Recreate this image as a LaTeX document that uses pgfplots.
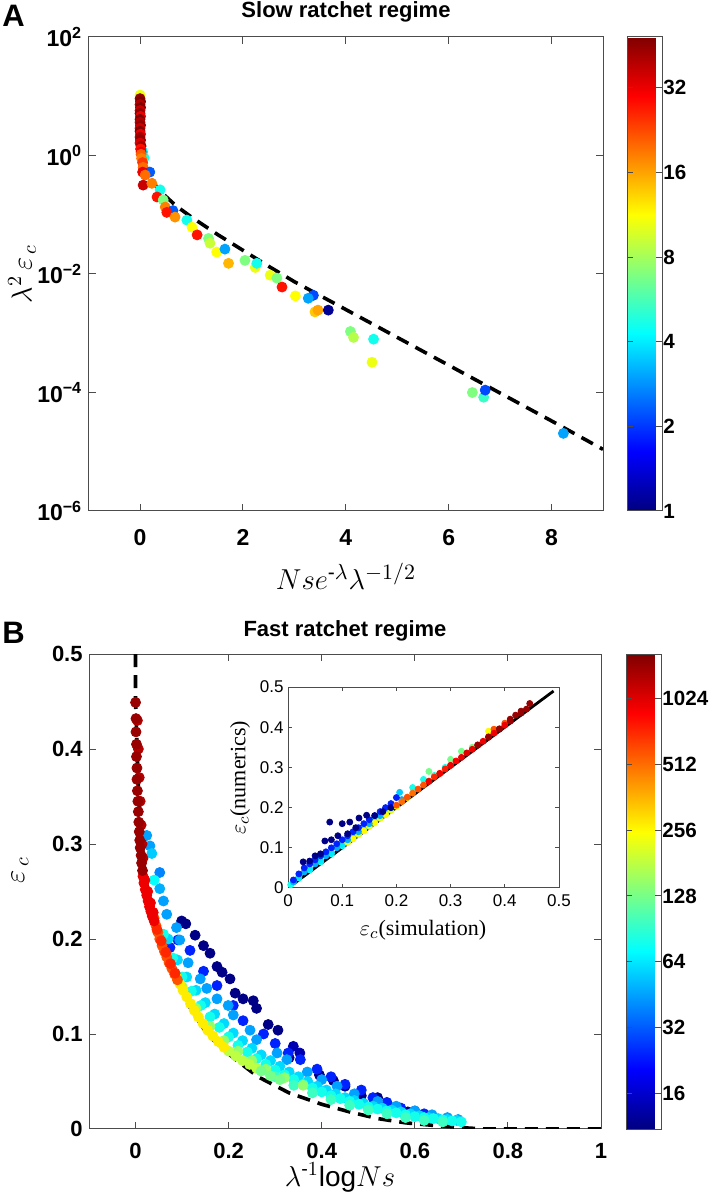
\documentclass[border=0pt]{standalone}
\usepackage{amsmath}
\usepackage{fontspec}
\setmainfont{Liberation Sans}
\newfontfamily\serif{Liberation Serif}
\usepackage{pgfplots}
\pgfplotsset{compat=1.18}
\usepackage{pgfplotstable}

% Panel A: x, log10(lambda^2 eps_c), log2(colour value)
\pgfplotstableread{
x ly c
0.00 1.02 3.4
0.00 0.96 5.5
0.01 0.91 5.6
0.00 0.86 5.3
0.01 0.81 5.6
0.00 0.76 5.2
0.00 0.71 5.5
0.01 0.66 5.0
0.00 0.61 5.6
0.00 0.56 5.3
0.01 0.51 5.5
0.00 0.46 5.2
0.00 0.41 5.6
0.01 0.36 5.0
0.00 0.31 5.4
0.01 0.26 5.5
0.00 0.21 5.1
0.02 0.16 5.4
0.05 0.06 2.0
0.08 -0.04 2.2
0.01 0.11 4.8
0.02 0.06 5.0
0.02 0.02 4.4
0.03 -0.05 4.2
0.05 -0.12 4.6
0.06 -0.20 4.3
0.19 -0.28 1.2
0.05 -0.28 5.0
0.10 -0.33 4.3
0.06 -0.50 5.2
0.23 -0.47 4.2
0.39 -0.58 2.2
0.33 -0.70 4.8
0.45 -0.75 2.8
0.49 -0.87 4.2
0.64 -0.93 1.2
0.52 -0.96 4.8
0.68 -1.04 4.1
0.91 -1.09 2.2
1.01 -1.21 3.5
1.11 -1.34 4.8
1.33 -1.40 2.8
1.36 -1.48 3.2
1.49 -1.63 3.5
1.65 -1.58 1.6
1.72 -1.82 3.9
2.04 -1.77 2.8
2.24 -1.89 3.4
2.27 -1.82 2.2
2.53 -2.02 3.4
2.66 -2.07 2.8
2.76 -2.22 4.8
3.02 -2.37 3.5
3.37 -2.36 1.1
3.27 -2.41 1.6
3.40 -2.64 3.8
3.46 -2.61 4.0
3.66 -2.61 0.1
4.09 -2.97 2.8
4.15 -3.07 3.1
4.54 -3.10 2.2
4.51 -3.49 3.4
6.46 -4.00 2.8
6.68 -4.08 2.4
6.71 -3.96 1.1
8.23 -4.69 1.6
}\dataA

\pgfplotstableread{
x ly
0.000 0.99
0.004 0.60
0.015 0.30
0.040 0.05
0.080 -0.13
0.150 -0.30
0.250 -0.44
0.350 -0.56
0.500 -0.69
0.700 -0.85
1.000 -1.04
1.500 -1.33
2.000 -1.60
2.500 -1.87
3.000 -2.13
4.000 -2.60
5.000 -3.07
6.000 -3.54
7.000 -4.01
8.000 -4.48
9.000 -4.96
}\lineA

% Panel B: x, eps_c, log2(colour value)
\pgfplotstableread{
x y c
0.099 0.219 3.5
0.108 0.216 3.5
0.128 0.204 3.5
0.146 0.193 3.5
0.160 0.185 3.5
0.175 0.171 3.5
0.186 0.165 3.5
0.203 0.158 3.5
0.214 0.143 3.5
0.231 0.137 3.5
0.253 0.135 3.5
0.260 0.127 3.5
0.285 0.110 3.5
0.306 0.104 3.5
0.339 0.087 3.8
0.353 0.080 3.8
0.330 0.075 3.5
0.395 0.057 3.5
0.425 0.051 3.5
0.450 0.045 3.5
0.485 0.035 3.5
0.520 0.033 3.5
0.545 0.022 3.5
0.585 0.018 3.5
0.074 0.191 4.6
0.091 0.199 4.6
0.117 0.188 4.6
0.146 0.166 4.6
0.175 0.151 4.6
0.210 0.130 4.6
0.231 0.114 4.6
0.275 0.100 4.6
0.300 0.090 4.6
0.328 0.080 4.6
0.354 0.073 4.6
0.390 0.063 4.6
0.420 0.055 4.6
0.450 0.047 4.6
0.485 0.041 4.6
0.510 0.033 4.6
0.540 0.028 4.6
0.570 0.022 4.6
0.600 0.019 4.6
0.620 0.016 4.6
0.024 0.309 5.5
0.031 0.298 5.5
0.035 0.290 5.8
0.052 0.270 5.3
0.052 0.253 5.6
0.040 0.262 6.2
0.060 0.240 5.5
0.067 0.226 5.5
0.088 0.212 5.5
0.095 0.199 5.5
0.113 0.175 5.5
0.139 0.158 5.5
0.153 0.148 5.5
0.175 0.137 5.5
0.199 0.130 5.5
0.210 0.120 5.5
0.246 0.104 5.5
0.260 0.094 5.5
0.304 0.080 5.5
0.325 0.073 5.5
0.369 0.060 5.5
0.400 0.052 5.5
0.433 0.045 5.5
0.470 0.037 5.5
0.520 0.029 5.5
0.560 0.024 5.5
0.600 0.019 5.5
0.637 0.015 5.5
0.670 0.012 5.5
0.693 0.010 5.5
0.070 0.200 5.9
0.090 0.178 5.9
0.110 0.160 5.9
0.130 0.146 5.9
0.150 0.133 5.9
0.170 0.121 5.9
0.190 0.111 5.9
0.210 0.101 5.9
0.230 0.093 5.9
0.250 0.085 5.9
0.270 0.078 5.9
0.290 0.072 5.9
0.310 0.066 5.9
0.330 0.060 5.9
0.350 0.055 5.9
0.370 0.050 5.9
0.390 0.045 5.9
0.410 0.041 5.9
0.430 0.037 5.9
0.450 0.033 5.9
0.470 0.030 5.9
0.490 0.027 5.9
0.510 0.024 5.9
0.530 0.022 5.9
0.550 0.020 5.9
0.570 0.018 5.9
0.590 0.016 5.9
0.610 0.014 5.9
0.630 0.012 5.9
0.650 0.011 5.9
0.670 0.010 5.9
0.690 0.009 5.9
0.060 0.205 6.3
0.080 0.180 6.3
0.100 0.160 6.3
0.120 0.145 6.3
0.140 0.130 6.3
0.160 0.118 6.3
0.180 0.107 6.3
0.200 0.097 6.3
0.220 0.088 6.3
0.240 0.081 6.3
0.260 0.074 6.3
0.280 0.068 6.3
0.300 0.062 6.3
0.320 0.057 6.3
0.340 0.052 6.3
0.360 0.047 6.3
0.380 0.043 6.3
0.400 0.039 6.3
0.420 0.035 6.3
0.440 0.032 6.3
0.460 0.029 6.3
0.480 0.026 6.3
0.500 0.023 6.3
0.520 0.021 6.3
0.540 0.019 6.3
0.560 0.017 6.3
0.580 0.015 6.3
0.600 0.013 6.3
0.620 0.012 6.3
0.640 0.011 6.3
0.660 0.0095 6.3
0.680 0.0085 6.3
0.700 0.0075 6.3
0.300 0.055 6.6
0.340 0.046 6.6
0.380 0.038 6.6
0.420 0.031 6.6
0.460 0.025 6.6
0.500 0.020 6.6
0.540 0.016 6.6
0.580 0.012 6.6
0.620 0.009 6.6
0.660 0.0075 6.6
0.100 0.150 7.2
0.130 0.127 7.2
0.160 0.108 7.2
0.190 0.093 7.2
0.220 0.082 7.2
0.250 0.072 7.2
0.280 0.063 7.2
0.320 0.054 7.2
0.360 0.046 7.2
0.200 0.082 7.5
0.215 0.077 7.5
0.230 0.072 7.5
0.245 0.068 7.5
0.260 0.064 7.5
0.270 0.061 7.0
0.290 0.056 7.0
0.310 0.052 7.0
0.088 0.160 8.1
0.095 0.153 8.1
0.102 0.146 8.1
0.110 0.139 8.1
0.118 0.132 8.1
0.126 0.125 8.1
0.135 0.118 8.1
0.145 0.111 8.1
0.155 0.104 8.1
0.166 0.098 8.1
0.178 0.092 8.1
0.190 0.086 8.1
0.040 0.222 9.2
0.044 0.214 9.2
0.048 0.207 9.2
0.052 0.200 9.2
0.057 0.193 9.2
0.062 0.187 9.2
0.067 0.181 9.2
0.072 0.175 9.2
0.078 0.169 9.2
0.084 0.163 9.2
0.090 0.157 9.2
0.046 0.210 9.5
0.055 0.198 9.5
0.065 0.186 9.5
0.075 0.174 9.5
0.085 0.164 9.5
0.016 0.266 9.9
0.018 0.259 9.9
0.021 0.252 9.9
0.024 0.246 9.9
0.027 0.240 9.9
0.030 0.234 9.9
0.033 0.229 9.9
0.036 0.224 9.9
0.040 0.219 9.9
0.020 0.262 9.9
0.026 0.250 9.9
0.032 0.238 9.9
0.038 0.228 9.9
0.004 0.430 10.3
0.006 0.400 10.3
0.008 0.370 10.3
0.010 0.345 10.3
0.012 0.320 10.3
0.014 0.300 10.3
0.016 0.285 10.3
0.000 0.449 10.5
0.001 0.432 10.5
0.001 0.418 10.5
0.002 0.405 10.5
0.002 0.392 10.5
0.003 0.380 10.5
0.003 0.368 10.5
0.004 0.356 10.5
0.005 0.345 10.5
0.006 0.334 10.5
0.007 0.323 10.5
0.008 0.313 10.5
0.009 0.304 10.5
0.010 0.296 10.5
0.012 0.288 10.5
0.013 0.280 10.5
0.015 0.272 10.5
}\dataB

\pgfplotstableread{
x y
0.000 0.500
0.000 0.450
0.002 0.420
0.006 0.360
0.012 0.310
0.020 0.270
0.030 0.240
0.045 0.215
0.063 0.193
0.088 0.162
0.117 0.128
0.155 0.099
0.210 0.075
0.263 0.055
0.330 0.038
0.400 0.026
0.460 0.018
0.520 0.011
0.580 0.0065
0.646 0.0035
0.715 0.0010
0.750 0.0000
1.000 0.0000
}\lineB

% Inset: simulation, numerics, log2(colour value)
\pgfplotstableread{
x y c
0.005 0.008 6.3
0.020 0.025 6.3
0.040 0.045 6.3
0.060 0.065 6.3
0.080 0.085 6.3
0.100 0.105 6.3
0.120 0.125 6.3
0.140 0.145 6.3
0.160 0.165 6.3
0.180 0.186 6.3
0.230 0.250 6.3
0.250 0.270 6.3
0.270 0.280 6.3
0.290 0.300 6.3
0.020 0.028 6.0
0.040 0.048 6.0
0.060 0.068 6.0
0.080 0.088 6.0
0.100 0.108 6.0
0.120 0.128 6.0
0.140 0.148 6.0
0.160 0.168 6.0
0.110 0.113 7.8
0.130 0.133 7.8
0.150 0.153 7.8
0.170 0.173 7.8
0.190 0.193 7.8
0.120 0.122 8.0
0.140 0.142 8.0
0.160 0.162 8.0
0.180 0.182 8.0
0.200 0.203 8.0
0.220 0.225 8.0
0.370 0.390 8.0
0.260 0.290 7.0
0.300 0.320 7.0
0.320 0.340 7.0
0.340 0.350 7.0
0.010 0.015 5.6
0.030 0.040 5.6
0.050 0.060 5.6
0.070 0.080 5.6
0.090 0.100 5.6
0.110 0.120 5.6
0.130 0.140 5.6
0.150 0.160 5.6
0.170 0.180 5.6
0.190 0.200 5.6
0.210 0.220 5.6
0.206 0.238 5.8
0.010 0.020 4.6
0.020 0.035 4.6
0.030 0.050 4.6
0.040 0.060 4.6
0.050 0.070 4.6
0.060 0.080 4.6
0.070 0.090 4.6
0.080 0.100 4.6
0.090 0.110 4.6
0.100 0.120 4.6
0.110 0.130 4.6
0.120 0.140 4.6
0.130 0.150 4.6
0.140 0.160 4.6
0.150 0.170 4.6
0.160 0.180 4.6
0.170 0.190 4.6
0.180 0.200 4.6
0.190 0.210 4.6
0.200 0.225 4.6
0.028 0.065 3.5
0.040 0.067 3.5
0.050 0.080 3.5
0.060 0.085 3.5
0.068 0.117 3.5
0.080 0.120 3.5
0.092 0.130 3.5
0.077 0.164 3.5
0.100 0.160 3.5
0.114 0.164 3.5
0.131 0.174 3.5
0.145 0.181 3.5
0.110 0.135 3.5
0.125 0.150 3.5
0.160 0.180 3.5
0.175 0.190 3.5
0.190 0.200 3.5
0.200 0.206 9.2
0.220 0.226 9.2
0.240 0.246 9.2
0.260 0.266 9.2
0.280 0.285 9.2
0.300 0.305 9.2
0.380 0.395 9.2
0.400 0.410 9.2
0.210 0.215 9.0
0.230 0.236 9.0
0.250 0.256 9.2
0.270 0.276 9.5
0.290 0.296 9.6
0.310 0.316 9.8
0.330 0.336 10.0
0.350 0.356 10.2
0.370 0.376 10.3
0.390 0.396 10.4
0.410 0.420 10.5
0.430 0.435 10.6
0.260 0.265 9.9
0.280 0.285 9.9
0.300 0.305 9.9
0.320 0.325 9.9
0.340 0.345 9.9
0.360 0.365 9.9
0.380 0.385 9.9
0.400 0.405 9.9
0.350 0.355 10.5
0.370 0.375 10.5
0.390 0.395 10.5
0.410 0.415 10.5
0.420 0.430 10.5
0.430 0.440 10.5
0.440 0.445 10.5
0.446 0.459 10.5
}\dataC

\pgfplotsset{
  frame/.style={
    scale only axis,
    axis line style={black!70, line width=0.5pt},
    every tick/.style={black!70, line width=0.5pt},
    tick align=inside,
    xtick pos=both, ytick pos=both,
    xticklabel pos=bottom, yticklabel pos=left,
    /pgf/number format/assume math mode=true,
    clip=true,
  },
  cbar/.style={
    colorbar style={
      at={(parent axis.north east)}, anchor=north west,
      axis line style={black!70, line width=0.5pt},
      every tick/.style={black!70, line width=0.5pt},
      tick align=inside, ytick pos=both, yticklabel pos=right,
      major tick length=3pt,
      tick label style={font=\bfseries\fontsize{10.3}{12}\selectfont, inner sep=0.5pt},
      #1
    }
  },
  dots/.style={scatter, only marks, mark=*, point meta=explicit,
    scatter/use mapped color={draw=mapped color, fill=mapped color}},
}

\begin{document}
\begin{tikzpicture}
\fill[white] (0,0) rectangle (358.5pt,597.5pt);
\path[use as bounding box] (0,0) rectangle (358.5pt,597.5pt);

% ---------------- Panel A ----------------
\begin{axis}[frame,
  at={(44.3pt,342pt)}, anchor=south west,
  width=257.2pt, height=237pt,
  xmin=-1, xmax=9, ymin=-6, ymax=2,
  xtick={0,2,4,6,8},
  ytick={-6,-4,-2,0,2},
  yticklabels={10\textsuperscript{−6},10\textsuperscript{−4},10\textsuperscript{−2},10\textsuperscript{0},10\textsuperscript{2}},
  major tick length=3.5pt,
  tick label style={font=\bfseries\fontsize{11.5}{13}\selectfont},
  xticklabel style={inner sep=0pt, yshift=-9pt},
  yticklabel style={inner sep=0pt, xshift=-3pt},
  colormap/jet,
  point meta min=0, point meta max=5.6,
  colorbar,
  cbar={xshift=3.5pt, width=17.5pt, ytick={0,1,2,3,4,5}, yticklabels={1,2,4,8,16,32}},
]
\addplot[dots, mark size=2.5pt] table[x=x, y=ly, meta=c]{\dataA};
\addplot[black, line width=1.8pt, dash pattern=on 6.5pt off 4pt] table[x=x, y=ly]{\lineA};
\end{axis}

% ---------------- Panel B ----------------
\begin{axis}[frame,
  at={(44.5pt,33pt)}, anchor=south west,
  width=256pt, height=237.5pt,
  xmin=-0.1, xmax=1, ymin=0, ymax=0.5,
  xtick={0,0.2,0.4,0.6,0.8,1},
  ytick={0,0.1,0.2,0.3,0.4,0.5},
  major tick length=3.5pt,
  tick label style={font=\bfseries\fontsize{11}{13}\selectfont},
  xticklabel style={inner sep=0pt, yshift=-7pt},
  yticklabel style={inner sep=0pt, xshift=-3pt},
  colormap/jet,
  point meta min=3.455, point meta max=10.68,
  colorbar,
  cbar={xshift=4pt, width=17.5pt, ytick={4,5,6,7,8,9,10}, yticklabels={16,32,64,128,256,512,1024}},
]
\addplot[dots, mark size=2.5pt] table[x=x, y=y, meta=c]{\dataB};
\addplot[black, line width=1.8pt, dash pattern=on 6.5pt off 4pt] table[x=x, y=y]{\lineB};
\end{axis}

% ---------------- Inset ----------------
\begin{axis}[frame,
  at={(144pt,153.5pt)}, anchor=south west,
  width=135.5pt, height=100.5pt,
  axis background/.style={fill=white},
  xmin=0, xmax=0.5, ymin=0, ymax=0.5,
  xtick={0,0.1,0.2,0.3,0.4,0.5},
  ytick={0,0.1,0.2,0.3,0.4,0.5},
  major tick length=2pt,
  tick label style={font=\fontsize{8.5}{10}\selectfont},
  xticklabel style={inner sep=0pt, yshift=-3pt},
  yticklabel style={inner sep=0pt, xshift=-2pt},
  colormap/jet,
  point meta min=3.455, point meta max=10.68,
]
\addplot[dots, mark size=1.5pt] table[x=x, y=y, meta=c]{\dataC};
\addplot[black, line width=1.4pt] coordinates {(0,0) (0.49,0.49)};
\end{axis}

% ---------------- Labels ----------------
\node[anchor=north west, inner sep=0pt, font=\bfseries\fontsize{15.5}{16}\selectfont] at (1pt,595pt) {A};
\node[anchor=north west, inner sep=0pt, font=\bfseries\fontsize{15.5}{16}\selectfont] at (1pt,286.5pt) {B};
\node[anchor=base, inner sep=0pt, font=\bfseries\fontsize{11}{12}\selectfont] at (173pt,588.5pt) {Slow ratchet regime};
\node[anchor=base, inner sep=0pt, font=\bfseries\fontsize{11}{12}\selectfont] at (172.5pt,279pt) {Fast ratchet regime};
\node[anchor=base, inner sep=0pt, font=\fontsize{15}{16}\selectfont] at (173pt,302.5pt) {$Nse^{\text{-}\lambda}\lambda^{-1/2}$};
\node[rotate=90, inner sep=0pt, font=\fontsize{14}{16}\selectfont] at (11pt,460.5pt) {$\lambda^{2}\,\varepsilon_{\,c}$};
\node[rotate=90, inner sep=0pt, font=\fontsize{14}{16}\selectfont] at (10pt,162.5pt) {$\varepsilon_{\,c}$};
\node[anchor=base, inner sep=0pt, font=\fontsize{14}{16}\selectfont] at (170pt,4.5pt) {$\lambda^{\text{-}1}\mathrm{log}Ns$};
\node[inner sep=0pt, font=\fontsize{11}{12}\selectfont] at (211.5pt,132.5pt) {$\varepsilon_c${\serif(simulation)}};
\node[rotate=90, inner sep=0pt, font=\fontsize{11}{12}\selectfont] at (120pt,208.5pt) {$\varepsilon_c${\serif(numerics)}};
\end{tikzpicture}
\end{document}
